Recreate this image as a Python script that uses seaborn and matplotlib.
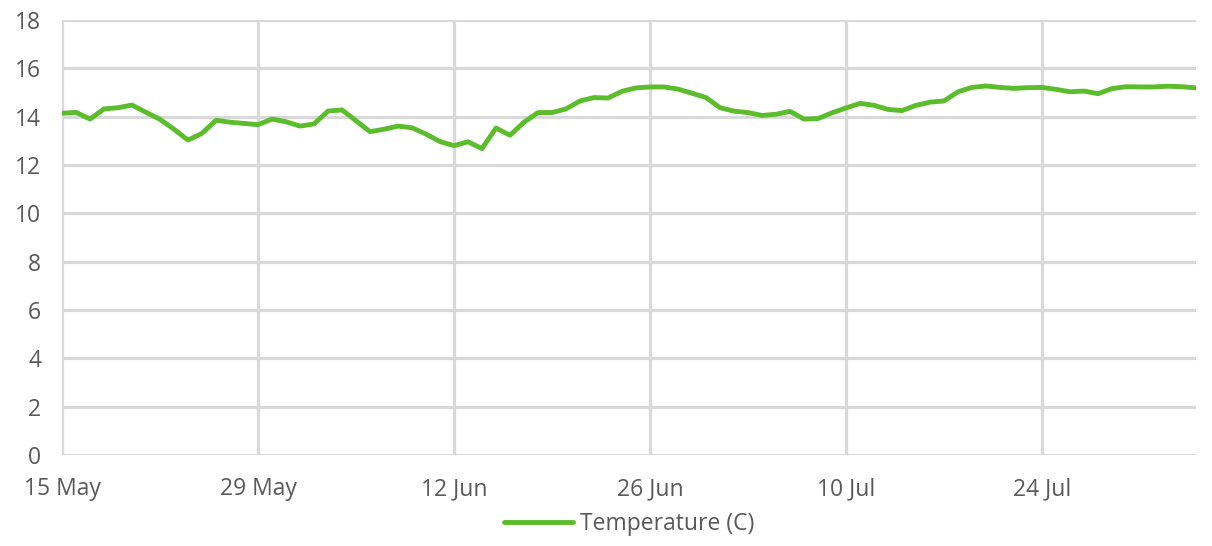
import matplotlib
matplotlib.use("Agg")
import matplotlib.pyplot as plt
import matplotlib.dates as mdates
import seaborn as sns
import pandas as pd
import numpy as np

start_date = "2023-05-15"
temperature = [
    14.14, 14.18, 13.90, 14.32, 14.37, 14.48, 14.18, 13.89, 13.48, 13.03,
    13.31, 13.85, 13.77, 13.72, 13.67, 13.90, 13.79, 13.61, 13.70, 14.23,
    14.28, 13.83, 13.38, 13.48, 13.61, 13.54, 13.28, 12.97, 12.80, 12.96,
    12.68, 13.53, 13.23, 13.77, 14.17, 14.17, 14.32, 14.65, 14.79, 14.77,
    15.05, 15.19, 15.23, 15.23, 15.14, 14.97, 14.79, 14.37, 14.23, 14.17,
    14.05, 14.10, 14.22, 13.90, 13.92, 14.16, 14.36, 14.55, 14.47, 14.30,
    14.25, 14.47, 14.60, 14.65, 15.03, 15.21, 15.27, 15.21, 15.17, 15.20,
    15.21, 15.13, 15.03, 15.06, 14.95, 15.16, 15.24, 15.23, 15.23, 15.26,
    15.24, 15.19,
]
series_label = "Temperature (C)"
y_ticks = [0, 2, 4, 6, 8, 10, 12, 14, 16, 18]
x_tick_dates = ["2023-05-15", "2023-05-29", "2023-06-12", "2023-06-26", "2023-07-10", "2023-07-24"]

dates = pd.date_range(start_date, periods=len(temperature), freq="D")
df = pd.DataFrame({"Date": dates, series_label: temperature})

sns.set_theme(style="white")
plt.rcParams["font.family"] = ["Open Sans", "DejaVu Sans"]

text_color = "#595959"
grid_color = "#D9D9D9"
line_color = "#5BBD2B"
fs = 16.5

fig = plt.figure(figsize=(12.12, 5.46), dpi=100)
ax = fig.add_axes([62 / 1212, 91 / 546, (1196 - 62) / 1212, (455 - 20) / 546])

sns.lineplot(data=df, x="Date", y=series_label, ax=ax, color=line_color,
             linewidth=3.5, label=series_label)

ax.set_ylim(0, 18)
ax.set_yticks(y_ticks)
ax.set_xlim(dates[0], dates[-1])
ax.set_xticks(pd.to_datetime(x_tick_dates))
ax.xaxis.set_major_formatter(mdates.DateFormatter("%-d %b"))

ax.grid(True, color=grid_color, linewidth=2.3)
ax.set_axisbelow(True)
for s in ax.spines.values():
    s.set_visible(False)

ax.tick_params(axis="both", length=0, labelsize=fs, labelcolor=text_color)
ax.tick_params(axis="y", pad=15)
ax.tick_params(axis="x", pad=16)
ax.set_xlabel("")
ax.set_ylabel("")

leg = ax.legend(loc="center", bbox_to_anchor=(0.5, -0.158), frameon=False,
                fontsize=fs, handlelength=3.0, handletextpad=0.3)
for t in leg.get_texts():
    t.set_color(text_color)

fig.savefig("out.png", dpi=100)
